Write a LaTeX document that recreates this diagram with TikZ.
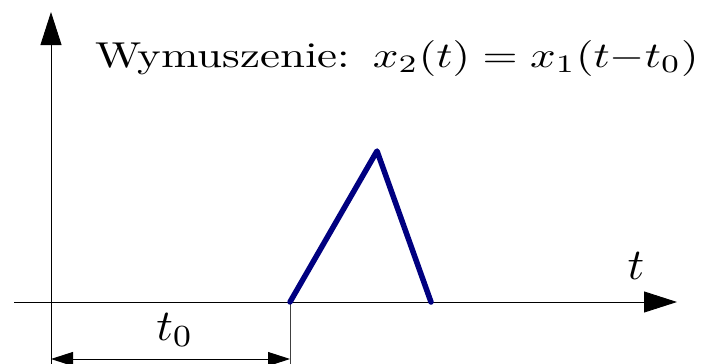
\documentclass[tikz,border=0pt]{standalone}
\usepackage{graphicx}
\usetikzlibrary{arrows.meta}
\definecolor{navyline}{RGB}{0,0,128}
\begin{document}
\begin{tikzpicture}[x=1pt,y=-1pt,
  axis/.style={line width=0.9pt,black},
  bigtip/.style={-{Triangle[length=33pt,width=21pt]}},
  dimtip/.style={{Triangle[length=22pt,width=14pt]}-{Triangle[length=22pt,width=14pt]}},
  pulse/.style={line width=5.5pt,navyline,line join=round,line cap=round},
  lbl/.style={inner sep=0pt},
  ttl/.style={inner sep=0pt,anchor=base west}]
\useasboundingbox (0,0) rectangle (713,364);
% coordinates
\coordinate (yb) at (51,364);
\coordinate (yt) at (51,12);
\coordinate (xl) at (14,302);
\coordinate (xr) at (677,302);
\coordinate (p0) at (290,302);
\coordinate (p1) at (377,151);
\coordinate (p2) at (431,302);
\coordinate (tk) at (290,364);
\coordinate (d0) at (51,359);
\coordinate (d1) at (290,359);
% axes
\draw[axis,bigtip] (yb) -- (yt);
\draw[axis,bigtip] (xl) -- (xr);
% tick at t0
\draw[line width=1pt,black!75] (p0) -- (tk);
% dimension
\draw[axis,dimtip] (d0) -- (d1);
% pulse
\draw[pulse] (p0) -- (p1) -- (p2);
% labels
\node[lbl] (tlab) at (636,266) {\scalebox{4.6}[4.4]{$t$}};
\node[lbl] (t0lab) at (175,330) {\scalebox{4.6}[4.4]{$t_0$}};
\node[ttl] (title) at (95,67) {\scalebox{4.5}[3.6]{Wymuszenie:\hspace{0.5em}$x_2(t) = x_1(t{-}t_0)$}};
\end{tikzpicture}
\end{document}
